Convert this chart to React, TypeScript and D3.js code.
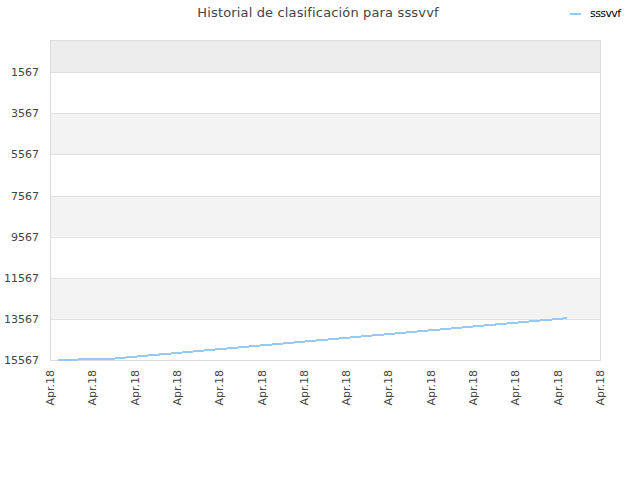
import React, { useEffect, useRef } from "react";
import * as d3 from "d3";

// chart data
const title = "Historial de clasificación para sssvvf";
const seriesName = "sssvvf";
const tickLabels = ["Apr.18", "Apr.18", "Apr.18", "Apr.18", "Apr.18", "Apr.18", "Apr.18",
  "Apr.18", "Apr.18", "Apr.18", "Apr.18", "Apr.18", "Apr.18", "Apr.18"];
const yTicks = [1567, 3567, 5567, 7567, 9567, 11567, 13567, 15567];
// x position measured in tick units, rank value at that position
const pointPos = [0.19, 1.28, 2, 4, 6, 8, 10, 12.22];
const pointRank = [15545, 15540, 15408, 15040, 14673, 14306, 13938, 13530];

export default function App() {
  const ref = useRef<SVGSVGElement>(null);

  useEffect(() => {
    const svg = d3.select(ref.current);
    svg.selectAll("*").remove();

    const left = 50, right = 600, top = 40, bottom = 360;
    const x = d3.scaleLinear().domain([0, tickLabels.length - 1]).range([left, right]);
    const y = d3.scaleLinear().domain([0, 15567]).range([top, bottom]);

    // background bands between grid lines
    const bounds = [0, ...yTicks];
    const g = svg.append("g");
    for (let i = 0; i < bounds.length - 1; i++) {
      const fill = i === 0 ? "#ededed" : i % 2 === 0 ? "#f3f3f3" : "#ffffff";
      g.append("rect")
        .attr("x", left)
        .attr("y", y(bounds[i]))
        .attr("width", right - left)
        .attr("height", y(bounds[i + 1]) - y(bounds[i]))
        .attr("fill", fill);
    }

    // grid lines
    g.selectAll(".grid")
      .data(yTicks)
      .enter()
      .append("line")
      .attr("x1", left)
      .attr("x2", right)
      .attr("y1", (d) => Math.round(y(d)) + 0.5)
      .attr("y2", (d) => Math.round(y(d)) + 0.5)
      .attr("stroke", "#e0e0e0");

    // frame
    g.append("rect")
      .attr("x", left + 0.5)
      .attr("y", top + 0.5)
      .attr("width", right - left)
      .attr("height", bottom - top)
      .attr("fill", "none")
      .attr("stroke", "#dcdcdc");

    // y labels
    g.selectAll(".ylab")
      .data(yTicks)
      .enter()
      .append("text")
      .attr("x", 39)
      .attr("y", (d) => y(d) + 4)
      .attr("text-anchor", "end")
      .attr("font-size", 11)
      .attr("fill", "#444")
      .text((d) => d);

    // x labels
    g.selectAll(".xlab")
      .data(tickLabels)
      .enter()
      .append("text")
      .attr("transform", (d, i) => `translate(${x(i) + 4},${370}) rotate(-90)`)
      .attr("text-anchor", "end")
      .attr("font-size", 11)
      .attr("fill", "#444")
      .text((d) => d);

    // series line
    const line = d3.line<number>()
      .x((d, i) => x(pointPos[i]))
      .y((d) => y(d));
    g.append("path")
      .datum(pointRank)
      .attr("d", line)
      .attr("fill", "none")
      .attr("stroke", "#99c9f3")
      .attr("stroke-width", 2)
      .attr("shape-rendering", "crispEdges");

    // title
    svg.append("text")
      .attr("x", 318)
      .attr("y", 17)
      .attr("text-anchor", "middle")
      .attr("font-size", 13)
      .attr("letter-spacing", 0.15)
      .attr("fill", "#444")
      .text(title);

    // legend
    svg.append("line")
      .attr("x1", 570)
      .attr("x2", 581)
      .attr("y1", 14)
      .attr("y2", 14)
      .attr("stroke", "#99c9f3")
      .attr("stroke-width", 2);
    svg.append("text")
      .attr("x", 590)
      .attr("y", 17)
      .attr("font-size", 11)
      .attr("letter-spacing", -0.6)
      .attr("fill", "#000")
      .text(seriesName);
  }, []);

  return (
    <svg
      ref={ref}
      width={640}
      height={480}
      style={{ position: "absolute", left: 0, top: 0, fontFamily: "DejaVu Sans", background: "#fff" }}
    />
  );
}
